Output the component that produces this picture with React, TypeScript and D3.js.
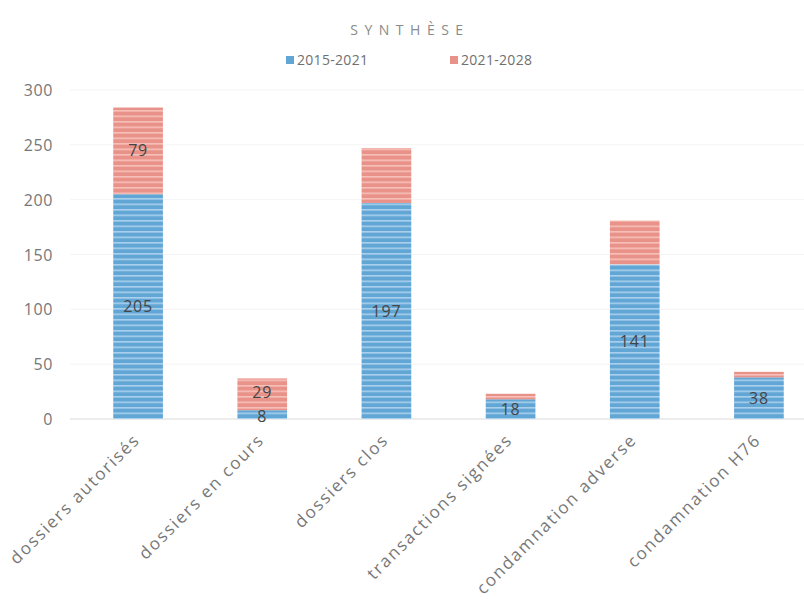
import React from "react";
import * as d3 from "d3";

const categories = [
  "dossiers autorisés",
  "dossiers en cours",
  "dossiers clos",
  "transactions signées",
  "condamnation adverse",
  "condamnation H76",
];
const series1Name = "2015-2021";
const series2Name = "2021-2028";
const series1 = [205, 8, 197, 18, 141, 38];
const series2 = [79, 29, 50, 5, 40, 5];
const series1Labels = [true, true, true, true, true, true];
const series2Labels = [true, true, false, false, false, false];
const yTicks = [0, 50, 100, 150, 200, 250, 300];

const W = 804;
const H = 603;
const FONT = "'Open Sans', 'Noto Sans', sans-serif";

export default function App() {
  const x = d3.scaleBand<string>().domain(categories).range([76, 821]).paddingInner(0.6).paddingOuter(0.3);
  const y = d3.scaleLinear().domain([0, 300]).range([419, 90]);
  const bw = x.bandwidth();

  // keep the two labels of very short stacks apart
  const labelY = (i: number, which: 1 | 2) => {
    const b1 = series1[i];
    const b2 = series2[i];
    let cy1 = (y(0) + y(b1)) / 2;
    let cy2 = (y(b1) + y(b1 + b2)) / 2;
    if (series1Labels[i] && series2Labels[i] && cy1 - cy2 < 24) {
      const mid = (cy1 + cy2) / 2;
      cy1 = mid + 12;
      cy2 = mid - 12;
    }
    return which === 1 ? cy1 : cy2;
  };

  return (
    <svg width={W} height={H} style={{ position: "absolute", left: 0, top: 0, background: "#fff" }}>
      <defs>
        <pattern id="pBlue" patternUnits="userSpaceOnUse" width="8" height="5.5">
          <rect width="8" height="5.5" fill="#62a6d5" />
          <rect y="0" width="8" height="1.6" fill="#a9d0ec" />
        </pattern>
        <pattern id="pRed" patternUnits="userSpaceOnUse" width="8" height="5.5">
          <rect width="8" height="5.5" fill="#e9928a" />
          <rect y="0" width="8" height="1.6" fill="#f6c0b8" />
        </pattern>
      </defs>
      <rect width={W} height={H} fill="#fff" />
      {/* title */}
      <text x={410} y={35} textAnchor="middle" fontFamily={FONT} fontSize={14} fill="#8a8a8a" letterSpacing={6.5}>
        SYNTHÈSE
      </text>
      {/* legend */}
      <rect x={286} y={56} width={8} height={8} fill="#62a6d5" />
      <text x={297} y={65} fontFamily={FONT} fontSize={14} letterSpacing={0.3} fill="#707070">{series1Name}</text>
      <rect x={450} y={56} width={8} height={8} fill="#e9928a" />
      <text x={461} y={65} fontFamily={FONT} fontSize={14} letterSpacing={0.3} fill="#707070">{series2Name}</text>
      {/* grid & y ticks */}
      {yTicks.map((t) => (
        <g key={t}>
          <line x1={70} x2={W} y1={y(t)} y2={y(t)} stroke={t === 0 ? "#d9d9d9" : "#f4f4f4"} strokeWidth={1} />
          <text x={53} y={y(t) + 6} textAnchor="end" fontFamily={FONT} fontSize={16} letterSpacing={0.6} fill="#777">
            {t}
          </text>
        </g>
      ))}
      {/* bars */}
      {categories.map((c, i) => {
        const x0 = x(c)!;
        const b1 = series1[i];
        const b2 = series2[i];
        const cx = x0 + bw / 2;
        return (
          <g key={c}>
            <rect x={x0} y={y(b1)} width={bw} height={y(0) - y(b1)} fill="url(#pBlue)" />
            <rect x={x0} y={y(b1 + b2)} width={bw} height={y(b1) - y(b1 + b2)} fill="url(#pRed)" />
            {series1Labels[i] && (
              <text x={cx} y={labelY(i, 1)} dy="0.35em" textAnchor="middle" fontFamily={FONT} fontSize={16} letterSpacing={0.8} fill="#454545">
                {b1}
              </text>
            )}
            {series2Labels[i] && (
              <text x={cx} y={labelY(i, 2)} dy="0.35em" textAnchor="middle" fontFamily={FONT} fontSize={16} letterSpacing={0.8} fill="#454545">
                {b2}
              </text>
            )}
            <text
              transform={`translate(${cx + 3},${441}) rotate(-45)`}
              textAnchor="end"
              fontFamily={FONT}
              fontSize={17}
              letterSpacing={1.8}
              fill="#777"
            >
              {c}
            </text>
          </g>
        );
      })}
    </svg>
  );
}
